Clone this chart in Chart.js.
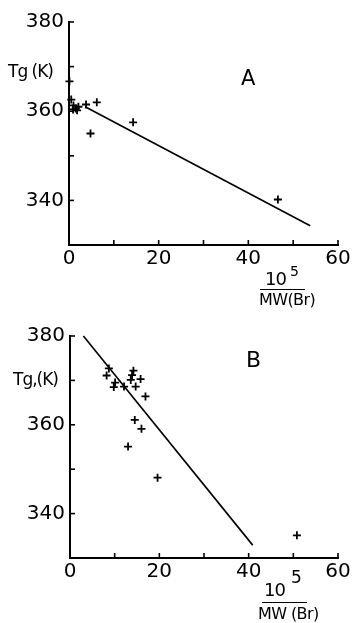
<!DOCTYPE html>
<html>
<head>
<meta charset="utf-8">
<script src="https://cdn.jsdelivr.net/npm/chart.js@4.4.1/dist/chart.umd.min.js"></script>
<style>
  html, body { margin: 0; padding: 0; background: #fff; }
  #wrap { position: relative; width: 353px; height: 623px; overflow: hidden; font-family: "DejaVu Sans", sans-serif; color: #000; }
  canvas { position: absolute; left: 0; }
  .lbl { position: absolute; white-space: nowrap; line-height: 1; }
  .bar { position: absolute; height: 0; border-top: 1.6px solid #000; }
</style>
</head>
<body>
<div id="wrap">
  <canvas id="chartA" width="353" height="310" style="top:0"></canvas>
  <canvas id="chartB" width="353" height="313" style="top:310px"></canvas>

  <!-- panel A labels -->
  <div class="lbl" style="left:8px; top:63px; font-size:17px; letter-spacing:-1px;">Tg (K)</div>
  <div class="lbl" style="left:241px; top:68px; font-size:21px;">A</div>
  <div class="lbl" style="left:265px; top:270px; font-size:18px; letter-spacing:-1px;">10</div>
  <div class="lbl" style="left:290px; top:264px; font-size:14px;">5</div>
  <div class="bar" style="left:260px; top:289px; width:45px;"></div>
  <div class="lbl" style="left:259px; top:292px; font-size:16px; letter-spacing:-0.6px;">MW(Br)</div>

  <!-- panel B labels -->
  <div class="lbl" style="left:13px; top:371px; font-size:17px; letter-spacing:-1px;">Tg,(K)</div>
  <div class="lbl" style="left:246px; top:349px; font-size:22px;">B</div>
  <div class="lbl" style="left:264px; top:581px; font-size:18px; letter-spacing:-1px;">10</div>
  <div class="lbl" style="left:291px; top:569px; font-size:17px;">5</div>
  <div class="bar" style="left:262px; top:602px; width:45px;"></div>
  <div class="lbl" style="left:258px; top:606px; font-size:16px; letter-spacing:-0.6px;">MW (Br)</div>
</div>

<script>
// Axis ticks and labels
const xTickLabels = [0, 20, 40, 60];
const yTickLabels = [340, 360, 380];

// Panel A: Tg against 10^5 / MW(Br)
const aX = [0.1, 0.5, 1.0, 1.5, 2.1, 1.8, 0.9, 3.8, 6.2, 4.8, 14.3, 46.6];
const aY = [366.7, 362.6, 361.3, 360.6, 361.0, 360.2, 360.4, 361.5, 362.0, 355.0, 357.5, 340.2];
const aFitX = [3.6, 53.8];
const aFitY = [361.0, 334.3];

// Panel B
const bX = [8.7, 8.2, 10.1, 9.8, 12.1, 14.2, 13.9, 13.6, 15.8, 14.7, 16.9, 14.5, 16.0, 13.0, 19.6, 50.8];
const bY = [372.7, 371.1, 369.5, 368.5, 368.6, 372.2, 371.2, 370.1, 370.3, 368.6, 366.4, 361.1, 359.1, 355.1, 348.1, 335.1];
const bFitX = [3.0, 40.9];
const bFitY = [380.0, 332.9];

function pairs(xs, ys) { return xs.map((x, i) => ({ x: x, y: ys[i] })); }

// short tick marks pointing into the plot area
const inwardTicks = {
  id: 'inwardTicks',
  afterDraw(chart) {
    const ctx = chart.ctx;
    const xs = chart.scales.x, ys = chart.scales.y;
    const area = chart.chartArea;
    ctx.save();
    ctx.strokeStyle = '#000';
    ctx.lineWidth = 1.6;
    xs.ticks.forEach(t => {
      if (t.value === xs.min) return;
      const px = xs.getPixelForValue(t.value);
      ctx.beginPath(); ctx.moveTo(px, area.bottom); ctx.lineTo(px, area.bottom - 5); ctx.stroke();
    });
    ys.ticks.forEach(t => {
      if (t.value === ys.min) return;
      const py = ys.getPixelForValue(t.value);
      ctx.beginPath(); ctx.moveTo(area.left, py); ctx.lineTo(area.left + 5, py); ctx.stroke();
    });
    ctx.restore();
  }
};

function build(id, xs, ys, fitX, fitY, geom) {
  return new Chart(document.getElementById(id), {
    type: 'scatter',
    data: {
      datasets: [
        {
          data: pairs(xs, ys),
          pointStyle: 'cross',
          pointRadius: 4,
          pointBorderWidth: 1.8,
          borderColor: '#000',
          backgroundColor: '#000',
          showLine: false,
          clip: false
        },
        {
          data: pairs(fitX, fitY),
          showLine: true,
          pointRadius: 0,
          borderColor: '#000',
          borderWidth: 1.6,
          fill: false,
          clip: false
        }
      ]
    },
    options: {
      responsive: false,
      devicePixelRatio: 1,
      animation: false,
      layout: { padding: { top: geom.top, right: 15, left: 0, bottom: 0 } },
      plugins: { legend: { display: false }, tooltip: { enabled: false } },
      scales: {
        x: {
          type: 'linear', min: 0, max: 60,
          border: { display: true, color: '#000', width: 2 },
          grid: { display: false, drawTicks: false },
          ticks: {
            stepSize: 10, padding: 2, color: '#000',
            font: { family: 'DejaVu Sans', size: 20 },
            maxRotation: 0, autoSkip: false,
            callback: v => xTickLabels.includes(v) ? String(v) : ''
          },
          afterFit: s => { s.height = geom.xHeight; }
        },
        y: {
          type: 'linear', min: 330, max: 380,
          border: { display: true, color: '#000', width: 2 },
          grid: { display: false, drawTicks: false },
          ticks: {
            stepSize: 10, padding: 5, color: '#000',
            font: { family: 'DejaVu Sans', size: 20 },
            autoSkip: false,
            callback: v => yTickLabels.includes(v) ? String(v) : ''
          },
          afterFit: s => { s.width = geom.left; }
        }
      }
    },
    plugins: [inwardTicks]
  });
}

build('chartA', aX, aY, aFitX, aFitY, { top: 22, left: 69, xHeight: 65 });
build('chartB', bX, bY, bFitX, bFitY, { top: 26, left: 70, xHeight: 65 });
</script>
</body>
</html>
